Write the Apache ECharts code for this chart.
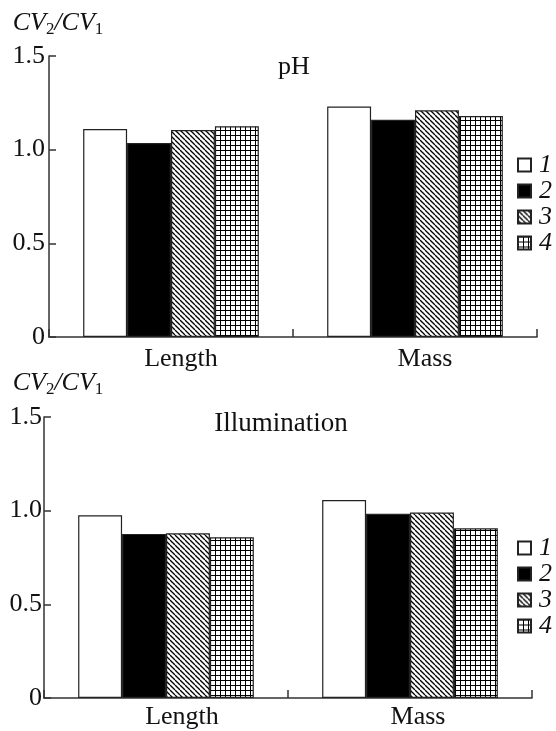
<!DOCTYPE html>
<html>
<head>
<meta charset="utf-8">
<script src="https://cdn.jsdelivr.net/npm/echarts@6/dist/echarts.min.js"></script>
<style>
  html, body { margin: 0; padding: 0; background: #fff; }
  #chart { width: 556px; height: 731px; }
</style>
</head>
<body>
<div id="chart"></div>
<script>
// categories and values
var categories = ['Length', 'Mass'];
var seriesNames = ['1', '2', '3', '4'];
var yTicks = [0, 0.5, 1.0, 1.5];

var ph1 = [1.11, 1.23];
var ph2 = [1.035, 1.16];
var ph3 = [1.105, 1.21];
var ph4 = [1.125, 1.18];

var il1 = [0.975, 1.057];
var il2 = [0.876, 0.984];
var il3 = [0.879, 0.99];
var il4 = [0.858, 0.906];

var FONT = 'Liberation Serif';
var INK = '#111';

// hatch / grid fills drawn on small canvases
function hatchPattern() {
  var s = 5, c = document.createElement('canvas');
  c.width = s; c.height = s;
  var g = c.getContext('2d');
  g.fillStyle = '#fff'; g.fillRect(0, 0, s, s);
  g.strokeStyle = '#000'; g.lineWidth = 1.3;
  for (var k = -1; k <= 1; k++) {
    g.beginPath();
    g.moveTo(k * s, 0);
    g.lineTo(k * s + s, s);
    g.stroke();
  }
  return { image: c, repeat: 'repeat' };
}
function gridPattern() {
  var s = 5, c = document.createElement('canvas');
  c.width = s; c.height = s;
  var g = c.getContext('2d');
  g.fillStyle = '#fff'; g.fillRect(0, 0, s, s);
  g.fillStyle = '#000';
  g.fillRect(0, 0, s, 1);
  g.fillRect(0, 0, 1, s);
  return { image: c, repeat: 'repeat' };
}
var fills = ['#fff', '#000', hatchPattern(), gridPattern()];

var nameRich = {
  i: { fontFamily: FONT, fontStyle: 'italic', fontSize: 26, lineHeight: 30, color: INK },
  s: { fontFamily: FONT, fontSize: 17, lineHeight: 12, verticalAlign: 'bottom', color: INK }
};

function yAxisFor(idx, shift, gap, labelMargin) {
  return {
    gridIndex: idx, type: 'value', min: 0, max: 1.5, interval: 0.5,
    name: '{i|CV}{s|2}{i|/CV}{s|1}',
    nameLocation: 'end', nameGap: gap,
    nameTextStyle: { align: 'center', verticalAlign: 'bottom', padding: [0, 0, 0, shift], rich: nameRich },
    axisLine: { show: true, lineStyle: { color: '#333', width: 1.5 } },
    axisTick: { show: true, inside: true, length: 7, lineStyle: { color: '#333', width: 1.5 } },
    splitLine: { show: false },
    axisLabel: {
      margin: labelMargin, color: INK, fontFamily: FONT, fontSize: 26,
      formatter: function (v) { return yTicks.indexOf(v) < 0 ? '' : (v === 0 ? '0' : v.toFixed(1)); }
    }
  };
}

function xAxisFor(idx, margin, shifts) {
  return {
    gridIndex: idx, type: 'category', data: categories,
    axisLine: { show: true, lineStyle: { color: '#333', width: 1.5 } },
    axisTick: { show: true, inside: true, length: 8, lineStyle: { color: '#333', width: 1.5 } },
    axisLabel: {
      margin: margin, color: INK, fontFamily: FONT, fontSize: 26,
      formatter: function (v, i) { return '{c' + i + '|' + v + '}'; },
      rich: {
        c0: { fontFamily: FONT, fontSize: 26, color: INK, padding: [0, 0, 0, shifts[0]] },
        c1: { fontFamily: FONT, fontSize: 26, color: INK, padding: [0, 0, 0, shifts[1]] }
      }
    }
  };
}

function barsFor(idx, sets) {
  return sets.map(function (d, k) {
    return {
      name: seriesNames[k], type: 'bar', xAxisIndex: idx, yAxisIndex: idx,
      data: d, barGap: '0%', barCategoryGap: '28%',
      itemStyle: { color: fills[k], borderColor: '#222', borderWidth: 1.2 },
      emphasis: { disabled: true }
    };
  });
}

function legendAt(top) {
  return {
    orient: 'vertical', left: 512, top: top,
    itemWidth: 13, itemHeight: 13, itemGap: 0,
    icon: 'rect', data: seriesNames,
    textStyle: { fontFamily: FONT, fontStyle: 'italic', fontSize: 26, color: INK, padding: [0, 0, 0, 3] }
  };
}

var chart = echarts.init(document.getElementById('chart'), null, { renderer: 'canvas' });
chart.setOption({
  backgroundColor: '#fff',
  animation: false,
  title: [
    { text: 'pH', left: 289, top: 49, textAlign: 'center',
      textStyle: { fontFamily: FONT, fontSize: 26, fontWeight: 'normal', color: INK } },
    { text: 'Illumination', left: 276, top: 405, textAlign: 'center',
      textStyle: { fontFamily: FONT, fontSize: 27, fontWeight: 'normal', color: INK } }
  ],
  legend: [legendAt(147), legendAt(530)],
  grid: [
    { left: 49, width: 488, top: 56, height: 281 },
    { left: 44, width: 488, top: 417, height: 281 }
  ],
  xAxis: [xAxisFor(0, 9, [20, 20]), xAxisFor(1, 6, [32, 16])],
  yAxis: [yAxisFor(0, 18, 18, 4), yAxisFor(1, 28, 19, 2)],
  series: barsFor(0, [ph1, ph2, ph3, ph4]).concat(barsFor(1, [il1, il2, il3, il4]))
});
</script>
</body>
</html>
